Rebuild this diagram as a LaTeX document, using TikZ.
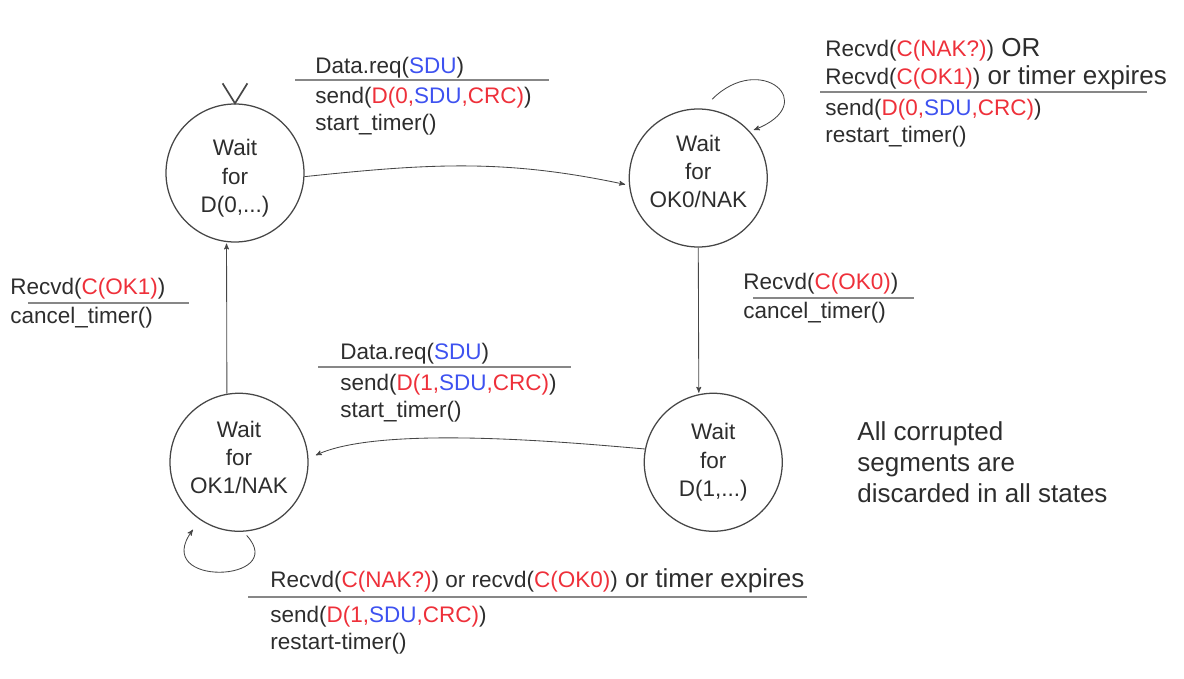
\documentclass[tikz,border=0pt]{standalone}
\usepackage{fontspec}
\setmainfont{Liberation Sans}
\usetikzlibrary{arrows,automata,positioning}
\definecolor{ink}{RGB}{45,45,45}
\definecolor{edgegray}{RGB}{70,70,70}
\definecolor{rulegray}{RGB}{135,135,135}
\definecolor{msgred}{RGB}{238,48,58}
\definecolor{msgblue}{RGB}{62,82,240}
\newcommand{\msgr}[1]{\textcolor{msgred}{#1}}
\newcommand{\msgb}[1]{\textcolor{msgblue}{#1}}
\newcommand{\msgbig}[1]{{\fontsize{18.5}{20}\selectfont #1}}

\begin{document}
\begin{tikzpicture}[->,>=stealth',shorten >=1pt,semithick,edgegray,
cond/.style={anchor=south west,inner sep=0pt,align=left,text=ink,
font=\fontsize{16}{20}\selectfont},
act/.style={anchor=north west,inner sep=0pt,align=left,text=ink,
font=\fontsize{16}{19.2}\selectfont},
bar/.style={-,draw=rulegray,line width=1.4pt}]
\tikzstyle{every state}=[circle,minimum size=3.45cm,text width=2.6cm,
text centered,inner sep=0pt,draw=edgegray,line width=0.9pt,text=ink,
font=\fontsize{16}{20}\selectfont]

\useasboundingbox (-5.875,4.325) rectangle (23.725,-12.625);

\node[state] (W0) {\rule{0pt}{19pt}Wait\\for\\D(0,...)};

\node[state]
(OK0) [right=8.1cm of W0, yshift=-1.25mm] {Wait\\for\\OK0/NAK\rule[-9pt]{0pt}{9pt}};

\node[state]
(W1) [below=3.625cm of OK0, xshift=3.75mm] {Wait\\for\\D(1,...)};

\node[state]
(OK1) [left=8.375cm of W1] {Wait\\for\\OK1/NAK\rule[-7pt]{0pt}{7pt}};

% initial marker
\coordinate (initL) at ([shift={(-0.31cm,0.5cm)}]W0.north);
\coordinate (initR) at ([shift={(0.31cm,0.5cm)}]W0.north);
\draw[-,line width=1.2pt,shorten >=0pt] (initL) -- (W0.north) -- (initR);

\path[->] (W0.-3) edge[out=6,in=168,shorten >=1mm] (OK0.186);

\path[->] (OK0.south) edge (W1.102);

\path[->] (W1.169) edge[out=175,in=25,looseness=0.6,shorten >=2mm] (OK1.3);

\path[->] (OK1.100) edge (W0.263);

% self loops
\coordinate (loopOK0) at ([shift={(80:2cm)}]OK0.center);
\draw[->,shorten >=1mm] (loopOK0) .. controls +(1.2,1.2) and +(1.8,0.7) .. (OK0.42);

\coordinate (loopOK1) at ([shift={(-84:1.84cm)}]OK1.center);
\draw[->,shorten >=3mm] (loopOK1) .. controls +(1.075,-1.175) and +(-1.25,-1.7) .. (OK1.-124);

% transition labels
\node[cond] (reqA) at (2.0,2.35) {Data.req(\msgb{SDU})};
\draw[bar] (1.5,2.325) -- (7.875,2.325);
\node[act] (sendA) at (2.0,2.1625)
{send(\msgr{D(0,}\msgb{SDU}\msgr{,CRC)})\\start\_timer()};

\node[cond] (nakA) at (14.75,2.075)
{Recvd(\msgr{C(NAK?)})\msgbig{ OR}\\Recvd(\msgr{C(OK1)})\msgbig{ or timer expires}};
\draw[bar] (14.625,2.025) -- (22.825,2.025);
\node[act] (sendB) at (14.75,1.8625)
{send(\msgr{D(0,}\msgb{SDU}\msgr{,CRC)})\\restart\_timer()};

\node[cond] (okA) at (12.7,-3.05) {Recvd(\msgr{C(OK0)})};
\draw[bar] (12.95,-3.125) -- (17.0,-3.125);
\node[act] (cancelA) at (12.7,-3.2125) {cancel\_timer()};

\node[cond] (okB) at (-5.625,-3.175) {Recvd(\msgr{C(OK1)})};
\draw[bar] (-5.175,-3.25) -- (-1.125,-3.25);
\node[act] (cancelB) at (-5.625,-3.3375) {cancel\_timer()};

\node[cond] (reqB) at (2.625,-4.8) {Data.req(\msgb{SDU})};
\draw[bar] (2.075,-4.85) -- (8.425,-4.85);
\node[act] (sendC) at (2.625,-5.0125)
{send(\msgr{D(1,}\msgb{SDU}\msgr{,CRC)})\\start\_timer()};

\node[cond] (nakB) at (0.875,-10.5)
{Recvd(\msgr{C(NAK?)}) or recvd(\msgr{C(OK0)})\msgbig{ or timer expires}};
\draw[bar] (0.325,-10.6) -- (14.325,-10.6);
\node[act] (sendD) at (0.875,-10.8125)
{send(\msgr{D(1,}\msgb{SDU}\msgr{,CRC)})\\restart-timer()};

\node[anchor=north west,inner sep=0pt,align=left,text=ink,
font=\fontsize{18.5}{22}\selectfont] (note) at (15.55,-6.2)
{All corrupted\\segments are\\discarded in all states};

\end{tikzpicture}
\end{document}
